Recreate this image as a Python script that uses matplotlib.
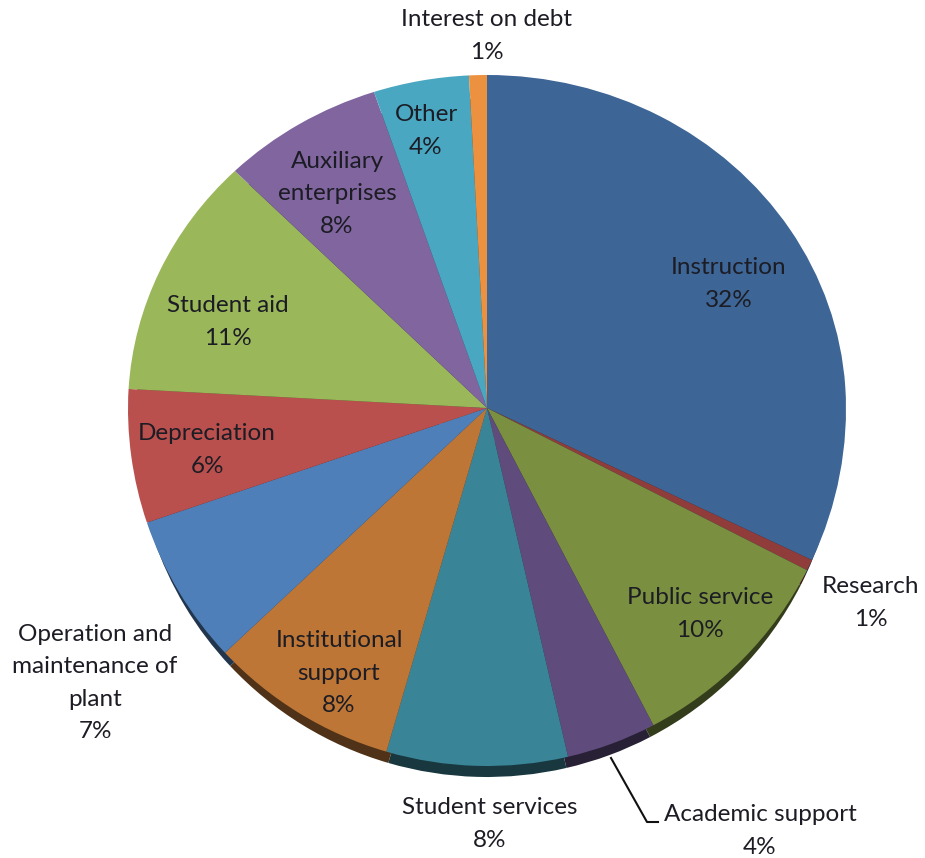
import matplotlib
matplotlib.use("Agg")
import matplotlib.pyplot as plt
import numpy as np
from matplotlib.colors import to_rgb
from matplotlib.lines import Line2D

plt.rcParams['font.family'] = ['Lato', 'DejaVu Sans']

WIDTH, HEIGHT = 925, 858

# slices clockwise from 12 o'clock, sizes
categories = ["Instruction", "Research", "Public service", "Academic support",
              "Student services", "Institutional\nsupport",
              "Operation and\nmaintenance of\nplant", "Depreciation",
              "Student aid", "Auxiliary\nenterprises", "Other",
              "Interest on debt"]
values = [32.0, 0.5, 9.85, 4.05, 8.15, 8.5, 6.8, 6.1, 11.7, 7.3, 4.3, 0.8]
percent_labels = ["32%", "1%", "10%", "4%", "8%", "8%", "7%", "6%", "11%",
                  "8%", "4%", "1%"]
colors = ["#3d6595", "#8f3c3a", "#7a9040", "#5f4b7c", "#3a8497", "#bd7636",
          "#4f7fb8", "#b9504e", "#9ab75a", "#80659f", "#4aa7c1", "#ec9140"]

# label centres in pixels of the image
label_x = [729, 871, 700, 760, 490, 339, 95, 207, 228, 337, 426, 487]
label_y = [284, 603, 614, 831, 824, 673, 683, 450, 322, 194, 131, 36]

# pie geometry in pixels, the 3D tilt makes upper and lower half differ
cx, cy = 487, 408
rx, ry_top, ry_bottom = 359, 333, 358
rim_shift, rim_shrink = 18, 7


def forward(y):
    y = np.asarray(y, dtype=float)
    return np.where(y > 0, y * ry_top, y * ry_bottom)


def inverse(y):
    y = np.asarray(y, dtype=float)
    return np.where(y > 0, y / ry_top, y / ry_bottom)


def darker(col, f=0.42):
    return tuple(c * f for c in to_rgb(col))


fig = plt.figure(figsize=(WIDTH / 100, HEIGHT / 100), dpi=100)
ax = fig.add_axes([0, 0, 1, 1])

# side of the pie first, shifted down, then the top face
ax.pie(values, colors=[darker(c) for c in colors], startangle=90,
       counterclock=False, radius=1 - rim_shrink / ry_bottom,
       center=(0, -rim_shift / ry_bottom), wedgeprops={'linewidth': 0})
ax.pie(values, colors=colors, startangle=90, counterclock=False, radius=1,
       center=(0, 0), wedgeprops={'linewidth': 0})

ax.set_aspect('auto')
ax.set_yscale('function', functions=(forward, inverse))
ax.set_xlim(-cx / rx, (WIDTH - cx) / rx)
ax.set_ylim(-(HEIGHT - cy) / ry_bottom, cy / ry_top)
ax.axis('off')

for name, pct, x, y in zip(categories, percent_labels, label_x, label_y):
    fig.text(x / WIDTH, 1 - y / HEIGHT, name + "\n" + pct, ha='center',
             va='center', fontsize=17.5, color='#1c1c24', linespacing=1.66)

# leader line of Academic support
fig.add_artist(Line2D(np.array([611, 647, 658]) / WIDTH,
                      1 - np.array([758, 822, 822]) / HEIGHT,
                      color='#111111', lw=1.5))

fig.savefig("out.png", dpi=100)
